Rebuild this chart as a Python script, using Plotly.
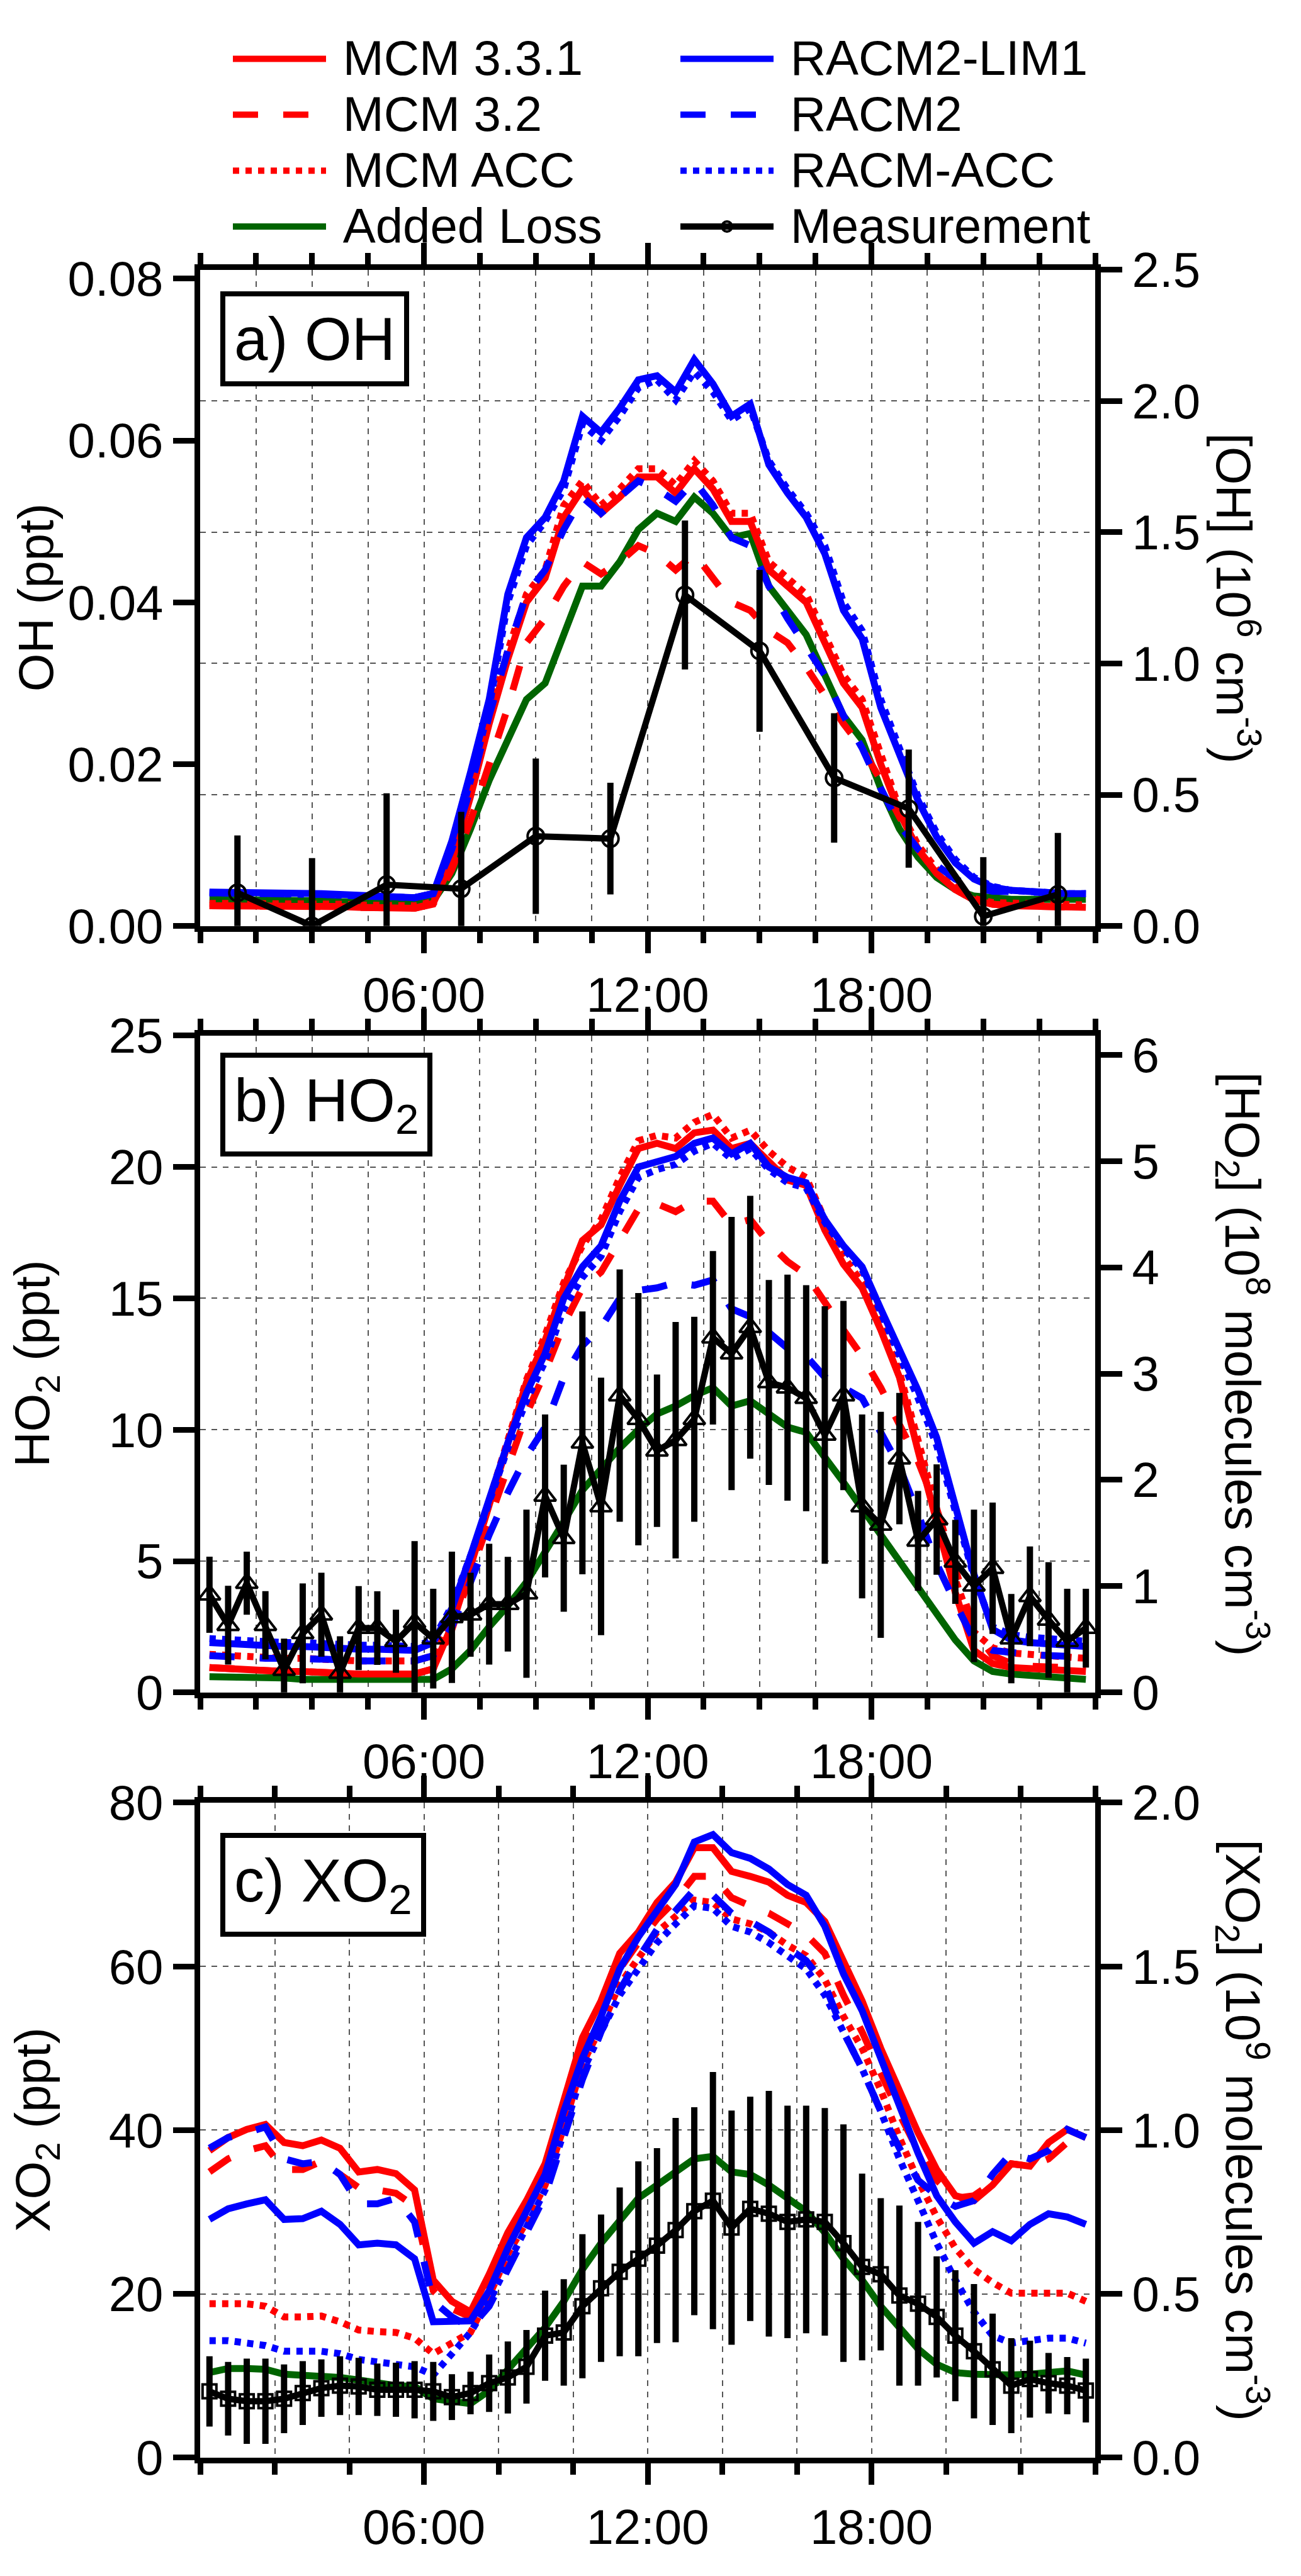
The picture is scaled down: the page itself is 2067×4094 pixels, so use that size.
import plotly.graph_objects as go

# model output times (hours of day, half-hour bins)
hours = [0.25, 0.75, 1.25, 1.75, 2.25, 2.75, 3.25, 3.75, 4.25, 4.75, 5.25, 5.75,
         6.25, 6.75, 7.25, 7.75, 8.25, 8.75, 9.25, 9.75, 10.25, 10.75, 11.25, 11.75,
         12.25, 12.75, 13.25, 13.75, 14.25, 14.75, 15.25, 15.75, 16.25, 16.75, 17.25, 17.75,
         18.25, 18.75, 19.25, 19.75, 20.25, 20.75, 21.25, 21.75, 22.25, 22.75, 23.25, 23.75]
oh_hours = [1, 3, 5, 7, 9, 11, 13, 15, 17, 19, 21, 23]

# ---- a) OH (ppt) ----
oh_mcm331 = [0.0025, 0.0025, 0.0026, 0.0026, 0.0025, 0.0025, 0.0024, 0.0024, 0.0023, 0.0022, 0.0022, 0.0022,
             0.0028, 0.008, 0.016, 0.025, 0.033, 0.040, 0.043, 0.0505, 0.054, 0.051, 0.053, 0.0555,
             0.0555, 0.0535, 0.0565, 0.054, 0.050, 0.050, 0.044, 0.042, 0.040, 0.035, 0.030, 0.027,
             0.020, 0.014, 0.0095, 0.0065, 0.0045, 0.0032, 0.0027, 0.0025, 0.0025, 0.0024, 0.0024, 0.0023]
oh_mcm32 = [0.0025, 0.0025, 0.0026, 0.0026, 0.0025, 0.0025, 0.0024, 0.0024, 0.0023, 0.0022, 0.0022, 0.0022,
            0.0027, 0.007, 0.013, 0.020, 0.027, 0.035, 0.038, 0.042, 0.045, 0.0435, 0.045, 0.047,
            0.046, 0.044, 0.046, 0.043, 0.040, 0.039, 0.0365, 0.035, 0.032, 0.0285, 0.025, 0.022,
            0.018, 0.0135, 0.0095, 0.0065, 0.0045, 0.0032, 0.0027, 0.0025, 0.0025, 0.0024, 0.0024, 0.0023]
oh_mcmacc = [0.0028, 0.0028, 0.0029, 0.0029, 0.0028, 0.0028, 0.0027, 0.0027, 0.0026, 0.0025, 0.0025, 0.0025,
             0.0030, 0.0085, 0.017, 0.026, 0.034, 0.041, 0.044, 0.052, 0.055, 0.052, 0.054, 0.0565,
             0.0565, 0.0545, 0.0575, 0.055, 0.051, 0.051, 0.045, 0.043, 0.041, 0.036, 0.031, 0.028,
             0.021, 0.0145, 0.010, 0.007, 0.0048, 0.0034, 0.0029, 0.0028, 0.0028, 0.0027, 0.0027, 0.0026]
oh_added = [0.0033, 0.0033, 0.0033, 0.0032, 0.0032, 0.0031, 0.0031, 0.0030, 0.0030, 0.0029, 0.0028, 0.0028,
            0.0031, 0.0065, 0.012, 0.018, 0.023, 0.028, 0.030, 0.036, 0.042, 0.042, 0.045, 0.049,
            0.051, 0.050, 0.053, 0.051, 0.048, 0.0485, 0.042, 0.039, 0.036, 0.031, 0.026, 0.023,
            0.017, 0.012, 0.0085, 0.006, 0.0045, 0.0037, 0.0034, 0.0033, 0.0033, 0.0033, 0.0033, 0.0033]
oh_racm2lim1 = [0.0042, 0.0042, 0.0041, 0.0041, 0.0040, 0.0040, 0.0040, 0.0039, 0.0038, 0.0037, 0.0035, 0.0035,
                0.0040, 0.0105, 0.019, 0.028, 0.041, 0.048, 0.0505, 0.055, 0.063, 0.061, 0.064, 0.0675,
                0.068, 0.066, 0.070, 0.067, 0.063, 0.0645, 0.057, 0.0535, 0.0505, 0.046, 0.039, 0.0355,
                0.027, 0.021, 0.0155, 0.011, 0.0078, 0.0058, 0.0048, 0.0044, 0.0042, 0.0041, 0.0040, 0.0040]
oh_racm2 = [0.0041, 0.0041, 0.0040, 0.0040, 0.0039, 0.0039, 0.0039, 0.0038, 0.0037, 0.0036, 0.0035, 0.0035,
            0.0040, 0.0095, 0.017, 0.026, 0.034, 0.041, 0.044, 0.049, 0.053, 0.051, 0.053, 0.055,
            0.054, 0.0525, 0.055, 0.052, 0.048, 0.047, 0.042, 0.038, 0.0345, 0.031, 0.026, 0.022,
            0.017, 0.0125, 0.0095, 0.0075, 0.0058, 0.0048, 0.0043, 0.0042, 0.0041, 0.0040, 0.0040, 0.0040]
oh_racmacc = [0.0041, 0.0041, 0.0040, 0.0040, 0.0039, 0.0039, 0.0039, 0.0038, 0.0037, 0.0036, 0.0035, 0.0035,
              0.0040, 0.0100, 0.018, 0.027, 0.040, 0.047, 0.050, 0.054, 0.062, 0.060, 0.063, 0.0665,
              0.0675, 0.065, 0.0685, 0.066, 0.0625, 0.064, 0.0575, 0.054, 0.051, 0.047, 0.040, 0.0365,
              0.028, 0.022, 0.016, 0.0115, 0.0082, 0.0060, 0.0049, 0.0044, 0.0042, 0.0041, 0.0040, 0.0040]
oh_meas = [0.0041, 0.0000, 0.0051, 0.0046, 0.0111, 0.0108, 0.0409, 0.0340, 0.0183, 0.0145, 0.0012, 0.0039]
oh_err = [0.0071, 0.0084, 0.0113, 0.0095, 0.0096, 0.0069, 0.0092, 0.0100, 0.0080, 0.0073, 0.0073, 0.0076]

# ---- b) HO2 (ppt) ----
ho2_mcm331 = [0.95, 0.90, 0.85, 0.85, 0.80, 0.80, 0.75, 0.75, 0.70, 0.70, 0.70, 0.70,
              0.9, 2.55, 4.8, 7.2, 9.4, 11.8, 13.4, 15.4, 17.2, 17.8, 19.3, 20.7,
              20.9, 20.7, 21.3, 21.4, 20.7, 20.9, 20.2, 19.5, 19.3, 17.6, 16.3, 15.4,
              13.8, 12.0, 9.2, 6.6, 3.8, 1.6, 1.1, 0.95, 0.9, 0.85, 0.85, 0.8]
ho2_mcm32 = [0.95, 0.90, 0.85, 0.85, 0.80, 0.80, 0.75, 0.75, 0.70, 0.70, 0.70, 0.70,
             0.9, 2.4, 4.5, 6.6, 8.6, 10.6, 12.2, 14.0, 15.4, 16.0, 17.2, 18.4,
             18.6, 18.3, 18.7, 18.7, 17.8, 18.0, 17.1, 16.4, 15.9, 14.8, 13.8, 12.8,
             11.6, 10.2, 8.8, 7.0, 4.6, 2.4, 1.4, 1.1, 1.0, 1.0, 0.95, 0.9]
ho2_mcmacc = [1.45, 1.4, 1.35, 1.35, 1.3, 1.3, 1.25, 1.25, 1.2, 1.2, 1.2, 1.2,
              1.4, 2.9, 5.0, 7.3, 9.6, 11.9, 13.6, 15.6, 17.0, 18.0, 19.6, 21.0,
              21.2, 21.1, 21.7, 22.0, 21.1, 21.4, 20.6, 20.0, 19.6, 18.0, 16.6, 15.6,
              14.0, 12.2, 9.6, 7.0, 4.3, 2.3, 1.7, 1.5, 1.45, 1.4, 1.35, 1.3]
ho2_added = [0.6, 0.6, 0.6, 0.55, 0.55, 0.5, 0.5, 0.5, 0.5, 0.45, 0.45, 0.45,
             0.5, 0.9, 1.6, 2.5, 3.3, 4.2, 5.3, 6.5, 7.7, 8.5, 9.3, 10.0,
             10.6, 10.9, 11.3, 11.6, 10.9, 11.1, 10.6, 10.1, 9.9, 9.0, 8.0, 7.0,
             6.0, 5.0, 3.9, 3.0, 2.0, 1.2, 0.8, 0.7, 0.65, 0.6, 0.55, 0.5]
ho2_racm2lim1 = [1.9, 1.85, 1.8, 1.8, 1.75, 1.75, 1.7, 1.7, 1.65, 1.65, 1.6, 1.6,
                 1.9, 3.2, 5.2, 7.4, 9.5, 11.4, 12.9, 15.0, 16.2, 17.0, 18.7, 20.0,
                 20.2, 20.4, 20.9, 21.1, 20.5, 20.9, 20.0, 19.6, 19.4, 18.0, 17.0, 16.2,
                 14.6, 13.0, 11.5, 9.7, 7.0, 4.5, 2.4, 2.0, 1.9, 1.85, 1.8, 1.75]
ho2_racm2 = [1.4, 1.35, 1.35, 1.3, 1.3, 1.3, 1.25, 1.25, 1.2, 1.2, 1.2, 1.2,
             1.4, 2.5, 4.2, 6.0, 7.6, 9.0, 10.1, 12.0, 13.2, 13.9, 15.0, 15.3,
             15.4, 15.6, 15.5, 15.7, 14.6, 14.3, 13.7, 13.1, 12.8, 12.0, 11.6, 11.2,
             9.9, 8.6, 6.8, 4.9, 3.4, 2.0, 1.6, 1.5, 1.45, 1.4, 1.4, 1.35]
ho2_racmacc = [2.05, 2.0, 1.95, 1.95, 1.9, 1.9, 1.85, 1.85, 1.8, 1.8, 1.75, 1.75,
               2.0, 3.3, 5.2, 7.3, 9.3, 11.1, 12.6, 14.6, 15.8, 16.6, 18.3, 19.6,
               19.9, 20.1, 20.6, 20.9, 20.3, 20.7, 19.9, 19.4, 19.2, 17.9, 16.9, 16.1,
               14.5, 12.8, 11.2, 9.4, 6.8, 4.4, 2.5, 2.2, 2.1, 2.05, 2.0, 1.95]
ho2_meas = [3.72, 2.56, 4.16, 2.56, 0.85, 2.25, 2.96, 0.74, 2.45, 2.45, 1.95, 2.66,
            2.05, 2.86, 2.96, 3.36, 3.36, 3.76, 7.48, 5.87, 9.50, 7.08, 11.3, 10.4,
            9.2, 9.6, 10.4, 13.5, 12.9, 13.9, 11.8, 11.6, 11.2, 9.8, 11.3, 7.08,
            6.38, 8.9, 5.77, 6.58, 4.97, 4.06, 4.73, 2.05, 3.66, 2.76, 1.95, 2.45]
ho2_err = [1.45, 1.5, 1.2, 1.3, 1.2, 1.9, 1.6, 1.4, 1.6, 1.4, 1.2, 3.1,
           1.9, 2.5, 1.6, 2.3, 1.8, 3.2, 3.1, 2.8, 5.0, 4.9, 4.8, 4.8,
           2.9, 4.5, 3.9, 3.3, 5.2, 5.0, 3.9, 4.3, 4.3, 4.9, 3.6, 3.5,
           4.3, 2.5, 1.9, 2.1, 1.6, 2.9, 2.5, 1.7, 1.9, 2.2, 2.0, 1.5]

# ---- c) XO2 (ppt) ----
xo2_mcm331 = [37.5, 39.1, 40.1, 40.7, 38.5, 38.1, 38.8, 37.8, 34.9, 35.2, 34.7, 32.7,
              21.7, 19.1, 17.8, 22.4, 27.5, 31.4, 35.9, 43.6, 51.3, 55.8, 61.6, 64.2,
              67.8, 70.3, 74.5, 74.5, 71.6, 71.0, 70.3, 68.7, 67.8, 65.5, 60.4, 55.8,
              50.0, 44.9, 39.7, 35.2, 32.0, 31.4, 33.3, 35.9, 35.6, 38.5, 40.1, 39.1]
xo2_mcm32 = [34.9, 36.5, 37.5, 38.1, 35.2, 35.2, 36.2, 34.6, 33.0, 32.7, 32.3, 30.7,
             20.4, 18.2, 17.2, 21.1, 26.2, 30.4, 34.6, 42.0, 49.4, 54.2, 59.7, 62.9,
             65.8, 68.1, 71.0, 71.0, 68.4, 67.4, 66.5, 65.2, 63.9, 61.6, 56.5, 52.0,
             46.8, 42.0, 37.5, 33.9, 31.7, 32.0, 33.6, 35.9, 35.6, 36.5, 38.5, 38.5]
xo2_mcmacc = [18.8, 18.8, 18.8, 18.5, 17.2, 17.2, 17.3, 16.6, 15.6, 15.4, 15.3, 14.6,
              12.7, 14.0, 15.3, 19.8, 24.9, 28.8, 33.3, 40.4, 48.1, 52.6, 57.8, 61.0,
              64.2, 66.1, 68.1, 67.8, 65.8, 65.2, 64.2, 62.6, 61.3, 58.4, 53.9, 50.0,
              44.9, 39.1, 33.9, 29.4, 25.6, 23.0, 21.4, 20.1, 20.1, 20.1, 20.1, 19.1]
xo2_added = [10.4, 10.9, 10.9, 10.8, 10.2, 10.1, 10.1, 9.8, 9.5, 9.1, 8.8, 8.7,
             7.2, 6.9, 6.6, 8.2, 10.8, 13.3, 15.9, 19.1, 23.0, 26.2, 29.1, 31.7,
             33.3, 34.9, 36.5, 36.8, 34.9, 34.6, 33.3, 31.7, 30.1, 27.5, 24.3, 21.7,
             18.5, 15.9, 13.3, 11.4, 10.4, 10.2, 10.1, 10.1, 10.2, 10.4, 10.6, 10.1]
xo2_racm2lim1 = [29.1, 30.4, 31.0, 31.5, 29.1, 29.2, 30.1, 28.5, 26.0, 26.2, 26.0, 24.3,
                 16.6, 16.6, 16.7, 20.4, 25.6, 30.1, 34.6, 42.3, 48.8, 53.9, 59.7, 63.6,
                 66.8, 70.0, 75.2, 76.1, 73.9, 73.2, 71.9, 70.0, 68.7, 64.9, 59.1, 54.6,
                 48.8, 43.0, 37.2, 32.0, 28.8, 26.2, 27.6, 26.5, 28.5, 29.8, 29.4, 28.5]
xo2_racm2 = [37.8, 39.1, 39.7, 40.4, 36.5, 35.9, 36.2, 34.6, 31.0, 31.0, 31.7, 28.8,
             19.1, 17.2, 15.9, 18.5, 23.0, 27.5, 32.0, 39.1, 46.2, 52.0, 57.1, 61.0,
             64.5, 66.8, 69.4, 68.7, 66.5, 65.5, 64.2, 62.3, 60.7, 57.8, 52.0, 47.5,
             42.3, 37.8, 33.9, 32.0, 30.7, 31.4, 34.6, 37.2, 36.5, 37.5, 40.1, 39.1]
xo2_racmacc = [14.3, 14.3, 14.0, 13.7, 13.0, 13.0, 13.0, 12.7, 12.0, 11.7, 11.5, 11.1,
               10.1, 12.7, 15.3, 19.1, 23.6, 28.1, 32.7, 39.7, 47.1, 52.0, 56.5, 59.7,
               62.9, 65.2, 67.4, 67.1, 64.9, 64.2, 62.9, 61.3, 59.7, 56.5, 52.0, 47.5,
               42.3, 36.5, 31.4, 26.2, 21.7, 17.8, 14.9, 14.0, 14.3, 14.6, 14.6, 14.0]
xo2_meas = [8.1, 7.2, 6.9, 6.9, 7.2, 7.9, 8.5, 8.8, 8.7, 8.3, 8.3, 8.3,
            8.1, 7.4, 7.9, 9.1, 9.8, 11.1, 14.9, 15.3, 18.5, 20.7, 22.7, 24.3,
            25.9, 27.8, 30.1, 31.4, 28.1, 30.4, 29.8, 28.8, 29.1, 28.8, 26.2, 23.3,
            22.4, 19.8, 18.8, 17.2, 14.9, 13.0, 10.8, 8.8, 9.6, 9.1, 8.8, 8.2]
xo2_err = [4.3, 4.5, 5.2, 5.2, 4.2, 3.9, 3.5, 3.6, 3.5, 3.2, 3.3, 3.5,
           3.6, 2.8, 2.6, 3.5, 4.4, 4.5, 5.5, 6.5, 8.8, 9.0, 10.3, 11.9,
           11.9, 13.7, 12.7, 15.7, 14.3, 13.7, 15.0, 14.2, 13.9, 13.9, 14.5, 11.4,
           9.3, 11.0, 10.0, 7.4, 8.0, 8.2, 6.8, 5.8, 4.7, 3.7, 3.5, 3.9]

time_ticks = [6, 12, 18]
time_labels = ["06:00", "12:00", "18:00"]

RED = "#ff0000"
BLUE = "#0000ff"
GREEN = "#006400"
FONT = "Liberation Sans, Arial, sans-serif"
DASH = "40px,40px"
DOT = "10px,10px"
TXT = 78

# page geometry: the browser adds an 8 px body margin, so shrink and offset
OFF = 8
W, H = 2067 - 2 * OFF, 4094 - 2 * OFF


def px(x):
    return (x - OFF) / W


def py(y):
    return 1 - (y - OFF) / H


# name -> (colour, dash, legend, legend rank); drawing order is the dict order
styles = {
    "Added Loss": (GREEN, "solid", "legend", 4),
    "MCM 3.2": (RED, DASH, "legend", 2),
    "MCM ACC": (RED, DOT, "legend", 3),
    "MCM 3.3.1": (RED, "solid", "legend", 1),
    "RACM2": (BLUE, DASH, "legend2", 2),
    "RACM-ACC": (BLUE, DOT, "legend2", 3),
    "RACM2-LIM1": (BLUE, "solid", "legend2", 1),
}

panels = [
    {"x": "x", "y": "y", "y2": "y2", "meas_t": oh_hours, "meas": oh_meas, "err": oh_err,
     "symbol": "circle-open", "msize": 26,
     "models": {"MCM 3.3.1": oh_mcm331, "MCM 3.2": oh_mcm32, "MCM ACC": oh_mcmacc, "Added Loss": oh_added,
                "RACM2-LIM1": oh_racm2lim1, "RACM2": oh_racm2, "RACM-ACC": oh_racmacc}},
    {"x": "x2", "y": "y3", "y2": "y4", "meas_t": hours, "meas": ho2_meas, "err": ho2_err,
     "symbol": "triangle-up-open", "msize": 30,
     "models": {"MCM 3.3.1": ho2_mcm331, "MCM 3.2": ho2_mcm32, "MCM ACC": ho2_mcmacc, "Added Loss": ho2_added,
                "RACM2-LIM1": ho2_racm2lim1, "RACM2": ho2_racm2, "RACM-ACC": ho2_racmacc}},
    {"x": "x3", "y": "y5", "y2": "y6", "meas_t": hours, "meas": xo2_meas, "err": xo2_err,
     "symbol": "square-open", "msize": 22,
     "models": {"MCM 3.3.1": xo2_mcm331, "MCM 3.2": xo2_mcm32, "MCM ACC": xo2_mcmacc, "Added Loss": xo2_added,
                "RACM2-LIM1": xo2_racm2lim1, "RACM2": xo2_racm2, "RACM-ACC": xo2_racmacc}},
]


def legend_label(name):
    # bigger text than the legend font so the rows stay tight like the original
    return '<span style="font-size:78px">\u00a0' + name + '</span>'


fig = go.Figure()

for k, p in enumerate(panels):
    for name in styles:
        col, dash, leg, rank = styles[name]
        fig.add_trace(go.Scatter(x=hours, y=p["models"][name], xaxis=p["x"], yaxis=p["y"],
                                 mode="lines", name=legend_label(name), line=dict(color=col, width=11, dash=dash),
                                 showlegend=(k == 0), legend=leg, legendrank=rank, hoverinfo="skip"))
    fig.add_trace(go.Scatter(x=p["meas_t"], y=p["meas"], xaxis=p["x"], yaxis=p["y"],
                             mode="lines+markers", name=legend_label("Measurement"),
                             line=dict(color="black", width=10),
                             marker=dict(symbol=p["symbol"], size=p["msize"], color="black",
                                         line=dict(color="black", width=4)),
                             error_y=dict(type="data", array=p["err"], color="black", thickness=10, width=0),
                             showlegend=(k == 0), legend="legend2", legendrank=4))
    # empty trace so the right-hand concentration axis is drawn
    fig.add_trace(go.Scatter(x=[None], y=[None], xaxis=p["x"], yaxis=p["y2"], mode="lines",
                             showlegend=False, hoverinfo="skip"))

xdom = [px(318), px(1740)]
ydoms = [[py(1459), py(393)], [py(2704), py(1637)], [py(3947), py(2883)]]

grid = dict(gridcolor="#555555", gridwidth=2, griddash="dash")


def xaxis_style(minor_step, anchor):
    return dict(domain=xdom, range=[0, 24], showline=True, linewidth=9, linecolor="black",
                mirror="ticks", ticks="outside", ticklen=34, tickwidth=9, tickcolor="black",
                tickmode="array", tickvals=time_ticks, ticktext=time_labels,
                tickfont=dict(size=TXT, color="black", family=FONT), anchor=anchor,
                showgrid=True, zeroline=False, fixedrange=True,
                minor=dict(tickmode="linear", tick0=0, dtick=minor_step, ticks="outside", ticklen=18,
                           tickwidth=9, tickcolor="black", showgrid=True, **grid),
                **grid)


def yaxis_style(dom, rng, vals, fmt, side, gridon, anchor, overlay=None):
    d = dict(domain=dom, range=rng, showline=True, linewidth=9, linecolor="black",
             ticks="outside", ticklen=34, tickwidth=9, tickcolor="black",
             tickmode="array", tickvals=vals, tickformat=fmt, side=side, anchor=anchor,
             tickfont=dict(size=TXT, color="black", family=FONT),
             showgrid=gridon, zeroline=False, fixedrange=True, **grid)
    if overlay:
        d["overlaying"] = overlay
    return d


legend_common = dict(orientation="v", xanchor="left", yanchor="top", y=py(0), itemwidth=148,
                     tracegroupgap=0, traceorder="normal", bgcolor="rgba(0,0,0,0)", borderwidth=0,
                     font=dict(size=66, family=FONT, color="black"))

fig.update_layout(
    width=W, height=H, margin=dict(l=0, r=0, t=0, b=0),
    paper_bgcolor="white", plot_bgcolor="white",
    font=dict(family=FONT, size=TXT, color="black"),
    xaxis=xaxis_style(1.5, "y"),
    xaxis2=xaxis_style(1.5, "y3"),
    xaxis3=xaxis_style(2, "y5"),
    yaxis=yaxis_style(ydoms[0], [0, 0.0811], [0, 0.02, 0.04, 0.06, 0.08], ".2f", "left", False, "x"),
    yaxis2=yaxis_style(ydoms[0], [0, 2.5], [0, 0.5, 1.0, 1.5, 2.0, 2.5], ".1f", "right", True, "x", "y"),
    yaxis3=yaxis_style(ydoms[1], [0, 25], [0, 5, 10, 15, 20, 25], "d", "left", True, "x2"),
    yaxis4=yaxis_style(ydoms[1], [0, 6.18], [0, 1, 2, 3, 4, 5, 6], "d", "right", False, "x2", "y3"),
    yaxis5=yaxis_style(ydoms[2], [0, 80], [0, 20, 40, 60, 80], "d", "left", True, "x3"),
    yaxis6=yaxis_style(ydoms[2], [0, 2.0], [0, 0.5, 1.0, 1.5, 2.0], ".1f", "right", False, "x3", "y5"),
    legend=dict(x=px(365), **legend_common),
    legend2=dict(x=px(1076), **legend_common),
    showlegend=True,
)

left_titles = ["OH (ppt)", "HO<sub>2</sub> (ppt)", "XO<sub>2</sub> (ppt)"]
right_titles = ["[OH] (10<sup>6</sup> cm<sup>-3</sup>)",
                "[HO<sub>2</sub>] (10<sup>8</sup> molecules cm<sup>-3</sup>)",
                "[XO<sub>2</sub>] (10<sup>9</sup> molecules cm<sup>-3</sup>)"]
right_title_x = [1966, 1974, 1974]
panel_labels = ["a) OH", "b) HO<sub>2</sub>", "c) XO<sub>2</sub>"]
label_tops = [428, 1665, 2932]

for i, dom in enumerate(ydoms):
    mid = (dom[0] + dom[1]) / 2
    fig.add_annotation(x=px(57), y=mid, xref="paper", yref="paper", text=left_titles[i],
                       textangle=-90, showarrow=False, font=dict(size=TXT, family=FONT, color="black"),
                       xanchor="center", yanchor="middle")
    fig.add_annotation(x=px(right_title_x[i]), y=mid, xref="paper", yref="paper", text=right_titles[i],
                       textangle=90, showarrow=False, font=dict(size=TXT, family=FONT, color="black"),
                       xanchor="center", yanchor="middle")
    fig.add_annotation(x=px(350), y=py(label_tops[i]), xref="paper", yref="paper", text=panel_labels[i],
                       showarrow=False, font=dict(size=96, family=FONT, color="black"),
                       xanchor="left", yanchor="top", bordercolor="black", borderwidth=8,
                       borderpad=14, bgcolor="white")

fig.write_html("out.html")
